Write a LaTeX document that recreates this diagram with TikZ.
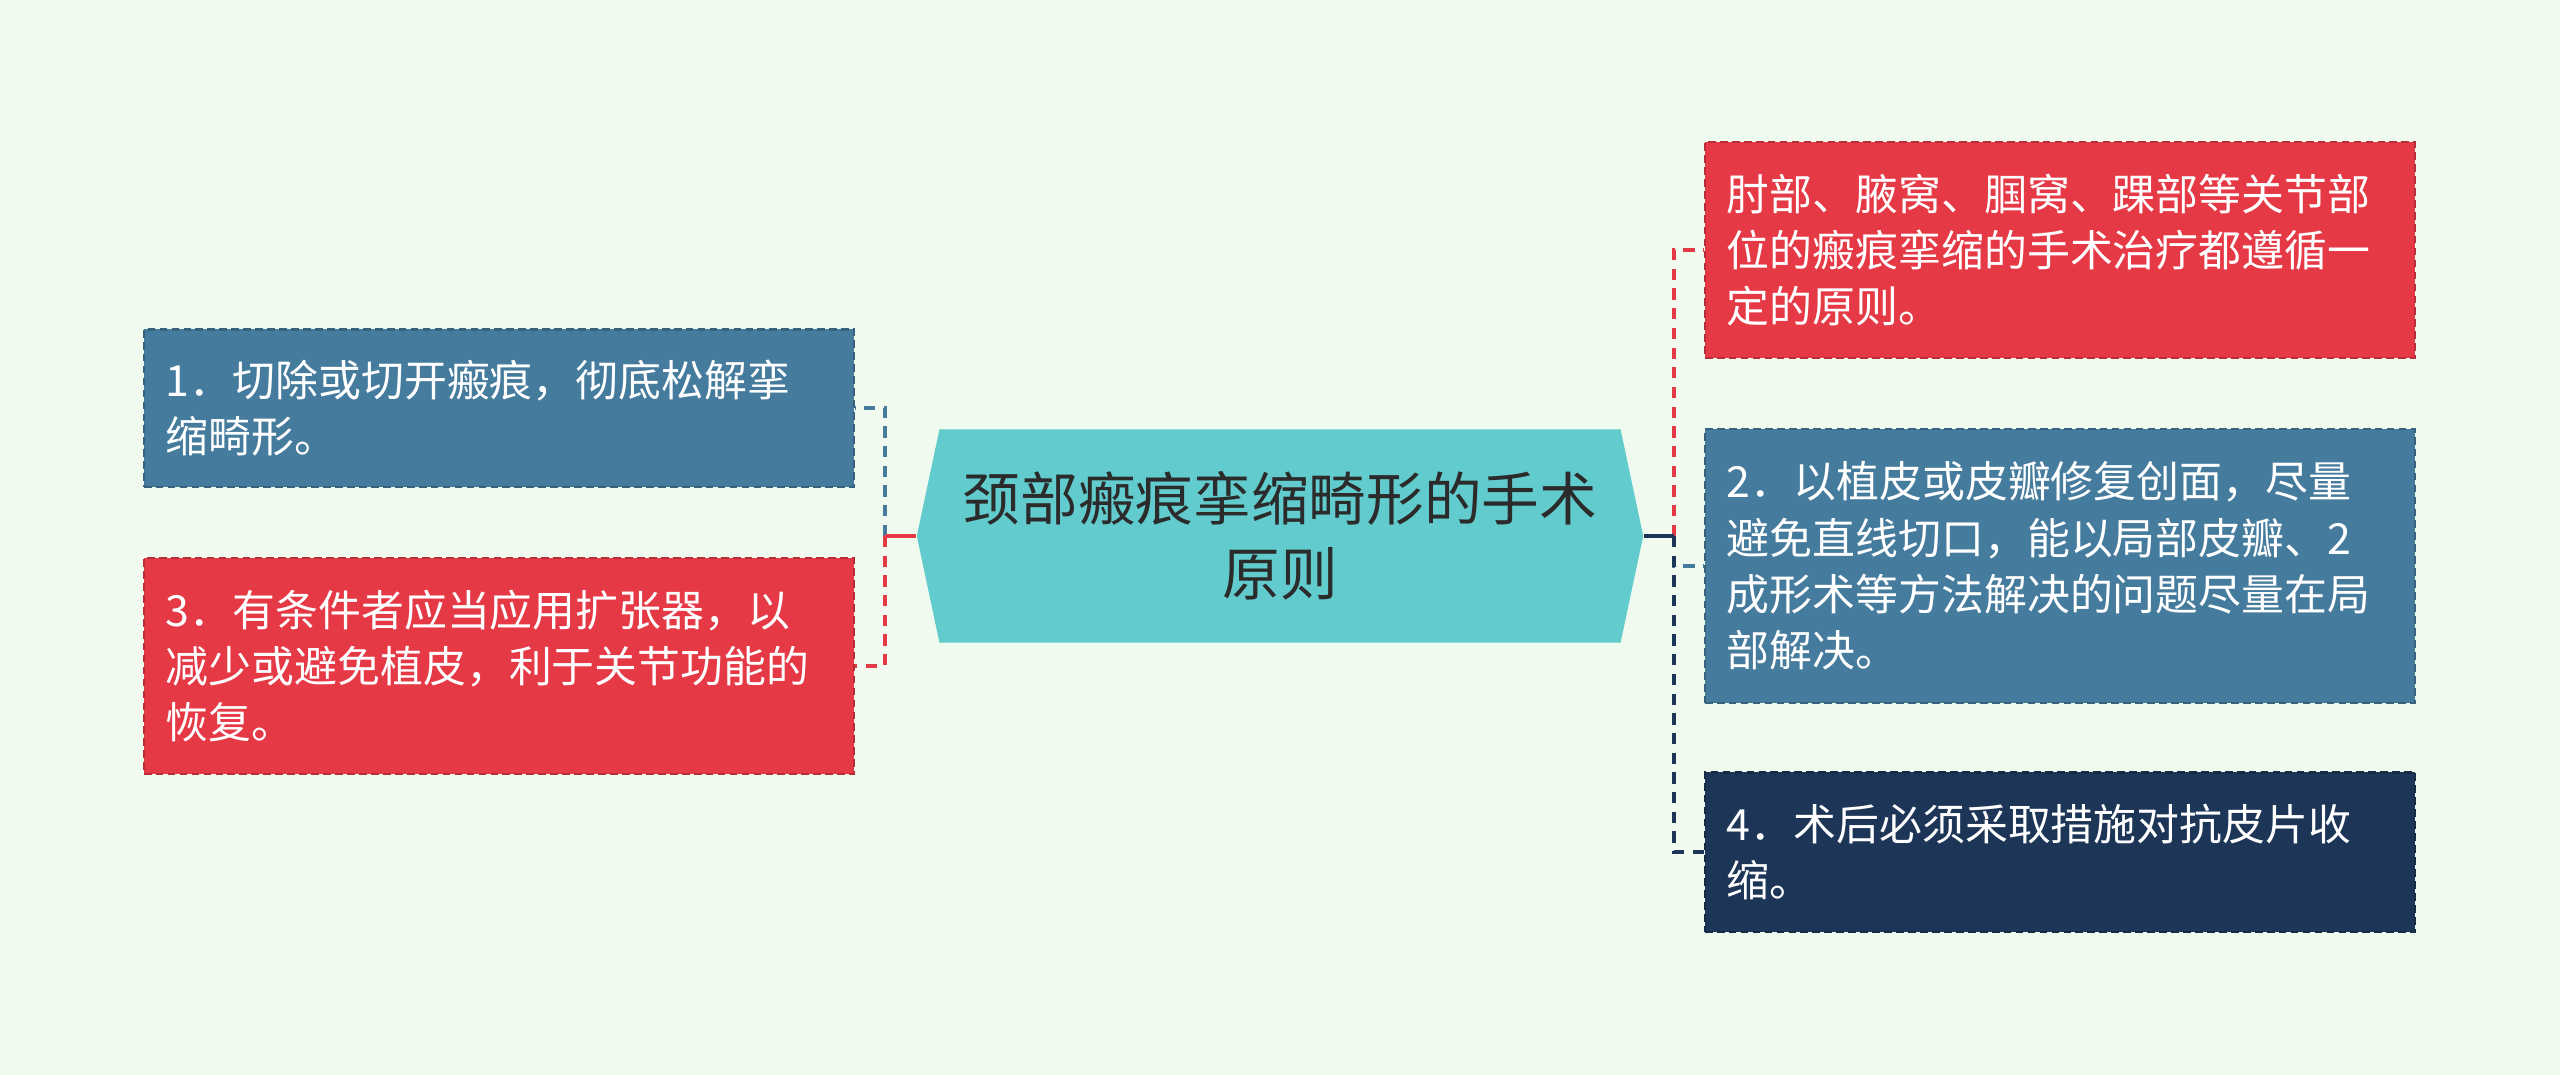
\documentclass[tikz,border=0pt]{standalone}
\usepackage{fontspec}
\setmainfont{Noto Sans CJK SC}
\usepackage{tikz}
\usetikzlibrary{shapes.symbols}
\definecolor{bgc}{HTML}{F1FAEE}
\definecolor{redc}{HTML}{E63946}
\definecolor{bluec}{HTML}{457B9D}
\definecolor{navyc}{HTML}{1D3557}
\definecolor{tealc}{HTML}{62CBCD}
\definecolor{inkc}{HTML}{2B2B2B}
\tikzset{
  box/.style={rectangle, fill=#1, draw=#1!80!black, line width=0.6pt,
    dash pattern=on 2.2pt off 1.2pt, text=white, text width=6.66cm,
    inner xsep=0.22cm, align=left, font=\fontsize{12.2pt}{16pt}\selectfont},
  link/.style={draw=#1, line width=1.05pt, dash pattern=on 3.2pt off 2.4pt},
}
\begin{document}
\begin{tikzpicture}[x=0.01cm,y=-0.01cm]
\fill[bgc] (0,0) rectangle (2560,1075);

\node[shape=signal, signal to=west and east, signal pointer angle=156,
  fill=tealc, text=inkc, minimum width=7.26cm, minimum height=2.13cm,
  align=center, font=\fontsize{16.4pt}{21.3pt}\selectfont] (ctr) at (1280,536)
  {颈部瘢痕挛缩畸形的手术\\原则};

\node[box=bluec, minimum height=1.57cm] (b1) at (499,408) {1．切除或切开瘢痕，彻底松解挛\\缩畸形。};
\node[box=redc, minimum height=2.16cm] (b3) at (499,666) {3．有条件者应当应用扩张器，以\\减少或避免植皮，利于关节功能的\\恢复。};

\node[box=redc, minimum height=2.16cm] (bA) at (2060,250) {肘部、腋窝、腘窝、踝部等关节部\\位的瘢痕挛缩的手术治疗都遵循一\\定的原则。};
\node[box=bluec, minimum height=2.73cm] (bB) at (2060,566) {2．以植皮或皮瓣修复创面，尽量\\避免直线切口，能以局部皮瓣、2\\成形术等方法解决的问题尽量在局\\部解决。};
\node[box=navyc, minimum height=1.59cm] (bC) at (2060,852) {4．术后必须采取措施对抗皮片收\\缩。};

\coordinate (jl) at (885,536);
\coordinate (jr) at (1674,536);

\draw[link=bluec] (jl) |- (b1.east);
\draw[link=redc] (jl) |- (b3.east);
\draw[redc, line width=1.05pt] (ctr.west) -- (jl);

\draw[link=redc] (jr) |- (bA.west);
\draw[link=bluec] (jr) |- (bB.west);
\draw[link=navyc] (jr) |- (bC.west);
\draw[navyc, line width=1.05pt] (ctr.east) -- (jr);

\end{tikzpicture}
\end{document}
